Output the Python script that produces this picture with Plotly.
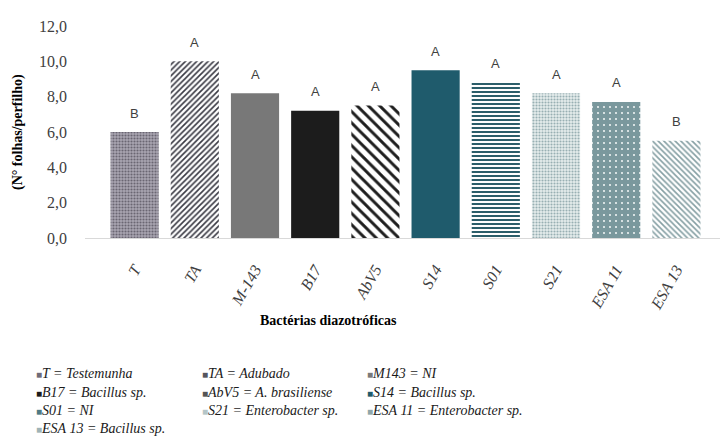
import plotly.graph_objects as go

# ---- data ----
categories = ["T", "TA", "M-143", "B17", "AbV5", "S14", "S01", "S21", "ESA 11", "ESA 13"]
values = [6.0, 10.0, 8.2, 7.2, 7.5, 9.5, 8.8, 8.2, 7.7, 5.5]
letters = ["B", "A", "A", "A", "A", "A", "A", "A", "A", "B"]
legend_labels = [
    "T = Testemunha", "TA = Adubado", "M143 = NI",
    "B17 = Bacillus sp.", "AbV5 = A. brasiliense", "S14 = Bacillus sp.",
    "S01 = NI", "S21 = Enterobacter sp.", "ESA 11 = Enterobacter sp.",
    "ESA 13 = Bacillus sp.",
]
y_title = "(N° folhas/perfilho)"
x_title = "Bactérias diazotróficas"

# ---- styles ----
pat_bg = ["#a9a5b1", "#ffffff", "#787878", "#1c1c1c", "#ffffff",
          "#1f5b6c", "#ffffff", "#e6eded", "#7a989d", "#ffffff"]
pat_shape = [".", "/", "", "", "\\", "", "-", ".", ".", "\\"]
pat_fg = ["#6a6672", "#3a3a44", "#787878", "#1c1c1c", "#1e1e1e",
          "#1f5b6c", "#2c5e6a", "#98afb3", "#eef3f3", "#86a0a4"]
pat_size = [3, 4, 8, 8, 8, 8, 4, 3, 6, 4]
pat_sol = [0.4, 0.4, 0.3, 0.3, 0.36, 0.3, 0.5, 0.4, 0.1, 0.4]
legend_marker_color = ["#6f6b78", "#55555e", "#7a7a7a", "#1c1c1c", "#555555",
                       "#1f5b6c", "#4f7a84", "#b5c6c8", "#8fa6aa", "#9fb3b6"]

SERIF = "Liberation Serif, Times New Roman, serif"
SANS = "Liberation Sans, Arial, sans-serif"

W, H = 722, 445
ML, MR, MT, MB = 85, 2, 26, 207
pw = W - ML - MR
ph = H - MT - MB


def px_to_paper_x(px):
    return (px - ML) / pw


def px_to_paper_y(py):
    return (H - MB - py) / ph


fig = go.Figure()
for i, (c, v) in enumerate(zip(categories, values)):
    pattern = dict(shape=pat_shape[i], fgcolor=pat_fg[i], fgopacity=1,
                   size=pat_size[i], solidity=pat_sol[i], fillmode="overlay")
    fig.add_trace(go.Bar(
        x=[c], y=[v], width=0.8, name=c,
        marker=dict(color=pat_bg[i], line=dict(width=0), pattern=pattern),
        showlegend=False, hoverinfo="x+y",
    ))

annotations = []
for c, v, t in zip(categories, values, letters):
    annotations.append(dict(x=c, y=v, text=t, showarrow=False, yanchor="middle",
                            yshift=19, font=dict(family=SANS, size=13, color="#404040")))

# axis titles
annotations.append(dict(xref="paper", yref="paper", x=px_to_paper_x(18), y=px_to_paper_y(132),
                        text=f"<b>{y_title}</b>", textangle=-90, showarrow=False,
                        xanchor="center", yanchor="middle",
                        font=dict(family=SERIF, size=14, color="#000000")))
annotations.append(dict(xref="paper", yref="paper", x=px_to_paper_x(328), y=px_to_paper_y(320),
                        text=f"<b>{x_title}</b>", showarrow=False,
                        xanchor="center", yanchor="middle",
                        font=dict(family=SERIF, size=14, color="#000000")))

# text legend (3 columns)
col_px = [34, 200, 365]
row_px = [374, 392, 410, 428]
for i, (lab, mc) in enumerate(zip(legend_labels, legend_marker_color)):
    cx = col_px[i % 3]
    ry = row_px[i // 3]
    annotations.append(dict(
        xref="paper", yref="paper", x=px_to_paper_x(cx), y=px_to_paper_y(ry),
        text=f"<span style='color:{mc};font-size:10px'>■</span><i>{lab}</i>",
        showarrow=False, xanchor="left", yanchor="middle",
        font=dict(family=SERIF, size=14, color="#1a1a1a")))

fig.update_layout(
    width=W, height=H,
    margin=dict(l=ML, r=MR, t=MT, b=MB, autoexpand=False),
    paper_bgcolor="white", plot_bgcolor="white",
    separators=",.",
    barmode="overlay",
    annotations=annotations,
    xaxis=dict(
        type="category", categoryorder="array", categoryarray=categories,
        range=[-0.824, 9.724],
        showline=True, linecolor="#d9d9d9", linewidth=1,
        ticks="", showgrid=False, zeroline=False,
        tickangle=-60,
        ticklabelstandoff=15,
        tickfont=dict(family=SERIF, size=16, color="#404040", style="italic"),
    ),
    yaxis=dict(
        range=[0, 12], dtick=2, tickformat=".1f",
        showgrid=False, showline=False, zeroline=False, ticks="",
        ticklabelstandoff=17,
        tickfont=dict(family=SERIF, size=16, color="#404040"),
    ),
)

fig.write_html("out.html")
